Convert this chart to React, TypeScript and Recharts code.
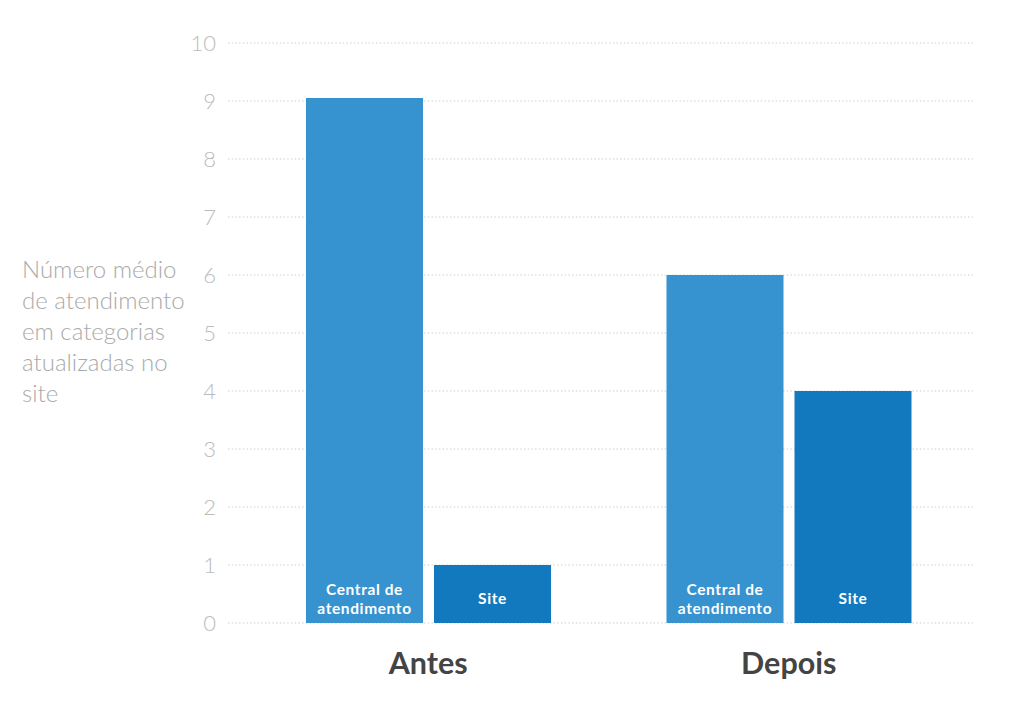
import React from 'react';
import { BarChart, Bar, XAxis, YAxis, CartesianGrid, LabelList } from 'recharts';

// Chart values
const categories = ['Antes', 'Depois'];
const centralValues = [9.05, 6];
const siteValues = [1, 4];
const seriesNames = ['Central de atendimento', 'Site'];
const seriesLabelLines = [['Central de', 'atendimento'], ['Site']];
const yTicks = [0, 1, 2, 3, 4, 5, 6, 7, 8, 9, 10];
const yAxisTitle = ['Número médio', 'de atendimento', 'em categorias', 'atualizadas no', 'site'];

const data = categories.map((name, i) => ({
    name,
    central: centralValues[i],
    site: siteValues[i],
}));

const FONT = "'Source Sans Pro', Lato, 'Open Sans', sans-serif";

const makeInsideLabel = (lines: string[]) => (props: any) => {
    const { x, y, width, height } = props;
    const cx = x + width / 2;
    const bottom = y + height;
    const lineH = 19;
    const startY = bottom - 25 - ((lines.length - 1) * lineH) / 2;
    return (
        <text
            x={cx}
            y={startY}
            textAnchor="middle"
            dominantBaseline="central"
            fill="#fff"
            fontSize={15.5}
            fontWeight={700}
            letterSpacing={0.6}
            fontFamily={FONT}
        >
            {lines.map((l, i) => (
                <tspan key={i} x={cx} dy={i === 0 ? 0 : lineH}>{l}</tspan>
            ))}
        </text>
    );
};

export default function App() {
    return (
        <div style={{ position: 'relative', width: 1024, height: 709, background: '#fff', fontFamily: FONT }}>
            <style>{`body{margin:0;}`}</style>
            <div
                style={{
                    position: 'absolute',
                    left: 22,
                    top: 253,
                    fontSize: 24,
                    lineHeight: '31px',
                    color: '#aaaaaa',
                    fontWeight: 300,
                }}
            >
                {yAxisTitle.map((l, i) => <div key={i}>{l}</div>)}
            </div>
            <BarChart
                width={1024}
                height={709}
                data={data}
                margin={{ top: 43, right: 51, left: 0, bottom: 0 }}
                barGap={11}
                barSize={117}
                style={{ position: 'absolute', left: 0, top: 0 }}
            >
                <CartesianGrid horizontal vertical={false} stroke="#cfcfcf" strokeDasharray="1.5 2.2" />
                <XAxis
                    dataKey="name"
                    axisLine={false}
                    tickLine={false}
                    height={86}
                    tickMargin={23}
                    padding={{ left: 20, right: 4 }}
                    tick={{ fill: '#444', fontSize: 30.5, fontWeight: 700, fontFamily: FONT }}
                />
                <YAxis
                    width={228}
                    domain={[0, 10]}
                    ticks={yTicks}
                    axisLine={false}
                    tickLine={false}
                    tickMargin={6}
                    tick={{ fill: '#bbbbbb', fontSize: 22, fontWeight: 300, fontFamily: FONT }}
                />
                <Bar dataKey="central" name={seriesNames[0]} fill="#3792d0" isAnimationActive={false}>
                    <LabelList dataKey="central" content={makeInsideLabel(seriesLabelLines[0])} />
                </Bar>
                <Bar dataKey="site" name={seriesNames[1]} fill="#1379be" isAnimationActive={false}>
                    <LabelList dataKey="site" content={makeInsideLabel(seriesLabelLines[1])} />
                </Bar>
            </BarChart>
        </div>
    );
}
